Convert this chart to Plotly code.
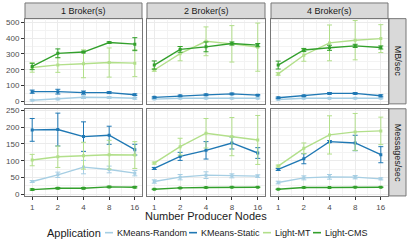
import numpy as np
import plotly.graph_objects as go
from plotly.subplots import make_subplots

# ---------------- data ----------------
nodes = [1, 2, 4, 8, 16]
brokers = ["1 Broker(s)", "2 Broker(s)", "4 Broker(s)"]
metrics = ["MB/sec", "Messages/sec"]
apps = ["KMeans-Random", "KMeans-Static", "Light-MT", "Light-CMS"]
colors = ["#A6CEE3", "#1F78B4", "#B2DF8A", "#33A02C"]

# MB/sec: one list per broker count (1, 2, 4)
mb_random = [[8, 16, 27, 25, 20], [15, 20, 20, 20, 20], [13, 20, 20, 20, 20]]
mb_random_err = [[4, 5, 8, 5, 5], [3, 3, 3, 3, 3], [3, 3, 3, 3, 3]]
mb_static = [[62, 62, 56, 56, 43], [26, 36, 42, 48, 40], [24, 36, 51, 51, 36]]
mb_static_err = [[10, 15, 10, 6, 5], [4, 4, 5, 5, 4], [4, 4, 5, 5, 6]]
mb_lightmt = [[215, 231, 238, 246, 242], [199, 302, 380, 364, 343], [174, 292, 370, 387, 397]]
mb_lightmt_err = [[30, 47, 88, 92, 85], [8, 45, 91, 115, 152], [8, 38, 113, 124, 88]]
mb_lightcms = [[221, 304, 312, 372, 362], [230, 329, 345, 366, 356], [230, 325, 339, 351, 341]]
mb_lightcms_err = [[20, 28, 5, 5, 41], [26, 18, 31, 10, 10], [25, 10, 16, 10, 10]]

# Messages/sec
msg_random = [[38, 58, 81, 74, 63], [38, 51, 57, 55, 54], [35, 49, 52, 51, 46]]
msg_random_err = [[3, 8, 20, 10, 8], [5, 8, 10, 6, 4], [4, 6, 7, 5, 3]]
msg_static = [[192, 193, 172, 176, 133], [77, 113, 131, 153, 123], [74, 106, 157, 153, 118]]
msg_static_err = [[34, 49, 44, 27, 16], [3, 12, 26, 18, 16], [3, 15, 3, 23, 24]]
msg_lightmt = [[102, 112, 115, 118, 117], [93, 142, 182, 172, 162], [84, 137, 177, 186, 189]]
msg_lightmt_err = [[17, 32, 40, 43, 40], [3, 25, 44, 57, 73], [3, 16, 57, 55, 41]]
msg_lightcms = [[14, 18, 18, 22, 21], [15, 19, 20, 21, 21], [15, 20, 20, 21, 21]]
msg_lightcms_err = [[2, 2, 2, 2, 2], [1, 1, 1, 1, 1], [1, 1, 1, 1, 1]]

mb_ticks = [0, 100, 200, 300, 400, 500]
msg_ticks = [0, 50, 100, 150, 200, 250]

values = {
    "MB/sec": [(mb_random, mb_random_err), (mb_static, mb_static_err),
               (mb_lightmt, mb_lightmt_err), (mb_lightcms, mb_lightcms_err)],
    "Messages/sec": [(msg_random, msg_random_err), (msg_static, msg_static_err),
                     (msg_lightmt, msg_lightmt_err), (msg_lightcms, msg_lightcms_err)],
}

# ---------------- layout geometry (pixels) ----------------
W, H = 407, 244
FONT = "Liberation Sans, Arial, sans-serif"
col_px = [(25, 142), (147, 265), (271, 388)]
row_px = [(17, 104), (109, 198)]
yranges = [[-15, 523], [-5, 255]]
xpos = np.log2(nodes)

fig = make_subplots(rows=2, cols=3)

for r, metric in enumerate(metrics):
    for c in range(3):
        for a, app in enumerate(apps):
            vals, errs = values[metric][a]
            fig.add_trace(go.Scatter(
                x=xpos, y=vals[c], mode="lines+markers",
                line=dict(color=colors[a], width=1.4),
                marker=dict(color=colors[a], size=3, symbol="square"),
                error_y=dict(type="data", array=errs[c], color=colors[a],
                             thickness=1, width=2.5),
                name=app, showlegend=False,
            ), row=r + 1, col=c + 1)

def px2x(p):
    return p / W

def px2y(p):
    return 1 - p / H

for r in range(2):
    for c in range(3):
        idx = r * 3 + c + 1
        xa = "xaxis" if idx == 1 else f"xaxis{idx}"
        ya = "yaxis" if idx == 1 else f"yaxis{idx}"
        x0, x1 = col_px[c]
        y0, y1 = row_px[r]
        fig.layout[xa].update(
            domain=[px2x(x0), px2x(x1)], range=[-0.28, 4.28],
            tickmode="array", tickvals=list(xpos), ticktext=[str(n) for n in nodes],
            showticklabels=(r == 1), ticks="outside" if r == 1 else "",
            ticklen=3, tickcolor="#333333", tickwidth=1,
            tickfont=dict(family=FONT, size=8, color="#4D4D4D"),
            showgrid=True, gridcolor="#EBEBEB", gridwidth=1,
            minor=dict(tickmode="linear", tick0=0, dtick=0.5, showgrid=True,
                       gridcolor="#F3F3F3", gridwidth=0.6, ticks=""),
            zeroline=False, showline=True, mirror=True, linecolor="#777777", linewidth=1,
        )
        ticks = mb_ticks if r == 0 else msg_ticks
        step = ticks[1] - ticks[0]
        fig.layout[ya].update(
            domain=[px2y(y1), px2y(y0)], range=yranges[r],
            tickmode="array", tickvals=ticks, ticktext=[str(t) for t in ticks],
            showticklabels=(c == 0), ticks="outside" if c == 0 else "",
            ticklen=3, tickcolor="#333333", tickwidth=1,
            tickfont=dict(family=FONT, size=8, color="#4D4D4D"),
            showgrid=True, gridcolor="#EBEBEB", gridwidth=1,
            minor=dict(tickmode="linear", tick0=step / 2, dtick=step, showgrid=True,
                       gridcolor="#F3F3F3", gridwidth=0.6, ticks=""),
            zeroline=False, showline=True, mirror=True, linecolor="#777777", linewidth=1,
        )

shapes = []
annotations = []
# top strips
for c, b in enumerate(brokers):
    x0, x1 = col_px[c]
    shapes.append(dict(type="rect", xref="paper", yref="paper",
                       x0=px2x(x0), x1=px2x(x1), y0=px2y(17), y1=px2y(1),
                       fillcolor="#D9D9D9", line=dict(color="#777777", width=1), layer="below"))
    annotations.append(dict(text=b, xref="paper", yref="paper", x=px2x((x0 + x1) / 2),
                            y=px2y(9), showarrow=False, xanchor="center", yanchor="middle",
                            font=dict(family=FONT, size=9, color="#1A1A1A")))
# right strips
for r, m in enumerate(metrics):
    y0, y1 = row_px[r]
    shapes.append(dict(type="rect", xref="paper", yref="paper",
                       x0=px2x(389), x1=px2x(406), y0=px2y(y1), y1=px2y(y0),
                       fillcolor="#D9D9D9", line=dict(color="#777777", width=1), layer="below"))
    annotations.append(dict(text=m, xref="paper", yref="paper", x=px2x(397.5),
                            y=px2y((y0 + y1) / 2), showarrow=False, textangle=90,
                            xanchor="center", yanchor="middle",
                            font=dict(family=FONT, size=9, color="#1A1A1A")))
# axis title
annotations.append(dict(text="Number Producer Nodes", xref="paper", yref="paper",
                        x=px2x(206), y=px2y(218), showarrow=False,
                        xanchor="center", yanchor="middle",
                        font=dict(family=FONT, size=11, color="#1A1A1A")))
# legend (manual, ggplot style)
legend_y = 235.5
annotations.append(dict(text="Application", xref="paper", yref="paper",
                        x=px2x(45), y=px2y(legend_y), showarrow=False,
                        xanchor="left", yanchor="middle",
                        font=dict(family=FONT, size=11, color="#1A1A1A")))
key_x = [105, 189, 263, 313]
for a, app in enumerate(apps):
    kx = key_x[a]
    shapes.append(dict(type="line", xref="paper", yref="paper",
                       x0=px2x(kx), x1=px2x(kx + 8), y0=px2y(legend_y), y1=px2y(legend_y),
                       line=dict(color=colors[a], width=1.6)))
    annotations.append(dict(text=app, xref="paper", yref="paper",
                            x=px2x(kx + 9.5), y=px2y(legend_y), showarrow=False,
                            xanchor="left", yanchor="middle",
                            font=dict(family=FONT, size=9, color="#1A1A1A")))

fig.update_layout(
    width=W, height=H, margin=dict(l=0, r=0, t=0, b=0),
    paper_bgcolor="white", plot_bgcolor="white",
    shapes=shapes, annotations=annotations, showlegend=False,
    font=dict(family=FONT),
)

fig.write_html("out.html", config={"displayModeBar": False},
               post_script="document.body.style.margin='0px';document.body.style.padding='0px';")
